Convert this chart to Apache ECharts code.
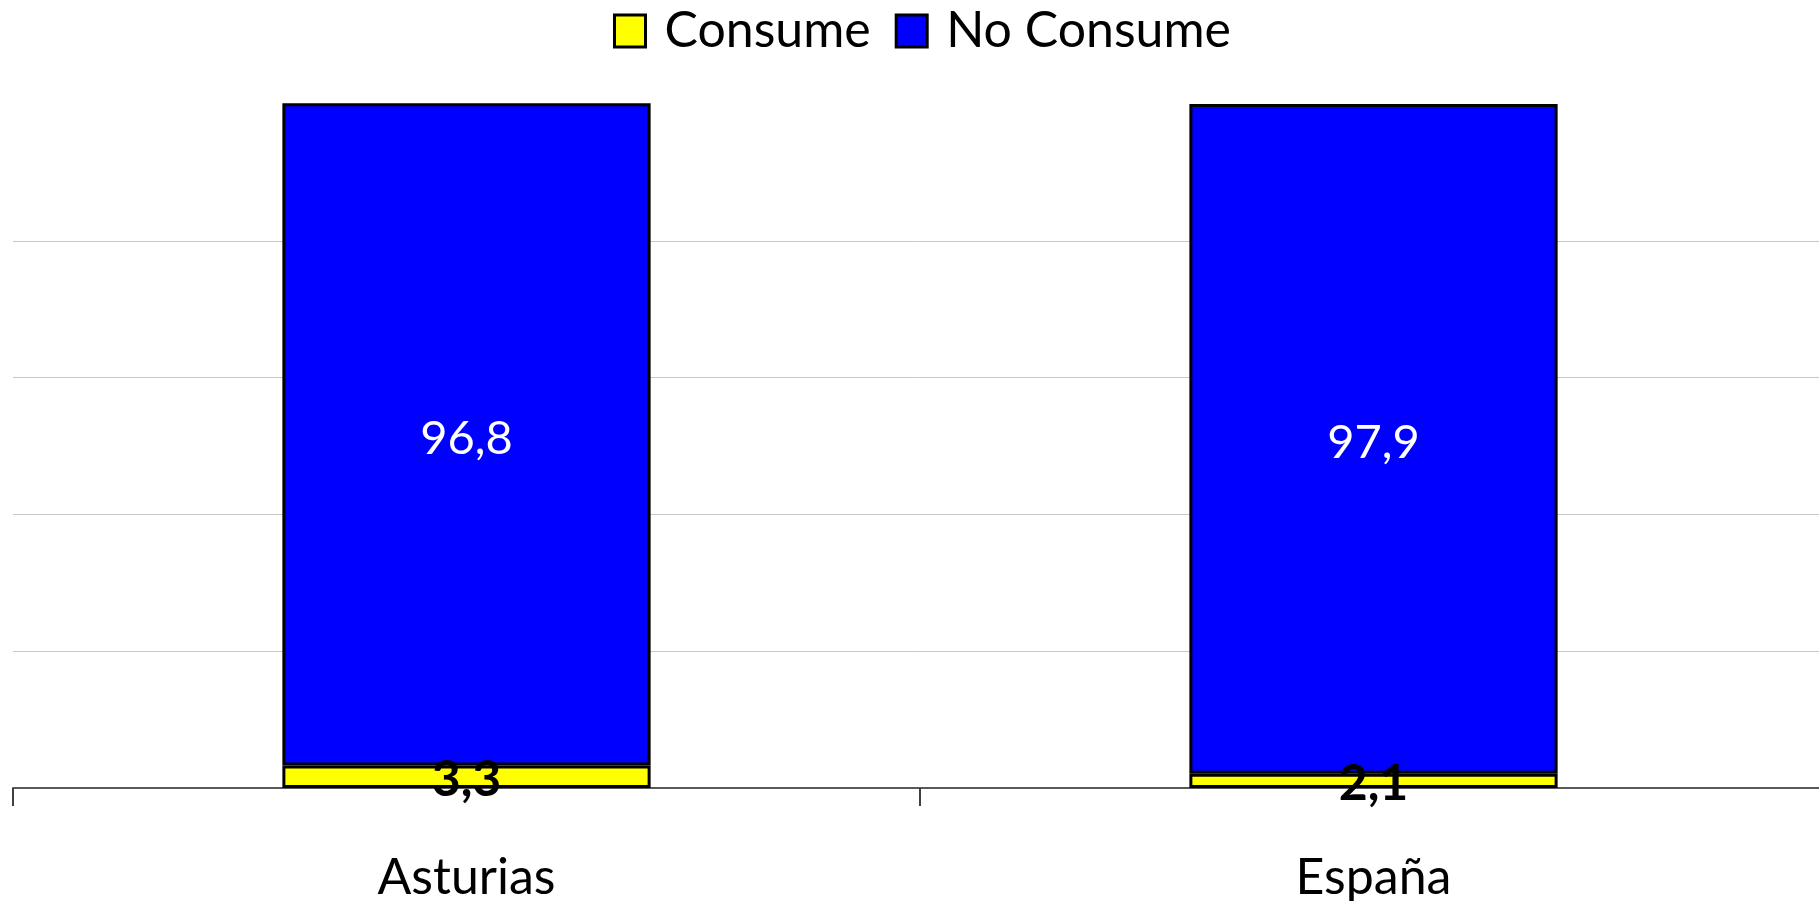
<!DOCTYPE html>
<html>
<head>
<meta charset="utf-8">
<script src="https://cdn.jsdelivr.net/npm/echarts@6/dist/echarts.min.js"></script>
<style>
html,body{margin:0;padding:0;background:#fff;overflow:hidden;}
#c{width:1819px;height:901px;}
</style>
</head>
<body>
<div id="c"></div>
<script>
const categories = ['Asturias', 'España'];
const consume = [3.3, 2.1];
const noConsume = [96.8, 97.9];
const seriesNames = ['Consume', 'No Consume'];

const FONT = 'Lato';
const fmt = p => String(p.value).replace('.', ',');

const chart = echarts.init(document.getElementById('c'), null, {renderer: 'canvas'});
chart.setOption({
  animation: false,
  backgroundColor: '#ffffff',
  legend: {
    data: seriesNames,
    top: 1,
    left: 608,
    itemWidth: 31,
    itemHeight: 32,
    itemGap: 24,
    icon: 'rect',
    textStyle: {fontFamily: FONT, fontSize: 50, color: '#000', padding: [4, 0, 0, 14]},
    itemStyle: {borderColor: '#000', borderWidth: 3}
  },
  grid: {left: 13, width: 1814, top: 104, bottom: 113, containLabel: false, outerBoundsMode: 'none'},
  xAxis: {
    type: 'category',
    data: categories,
    axisLine: {show: true, lineStyle: {color: '#595959', width: 2}},
    axisTick: {show: true, alignWithLabel: false, length: 18, lineStyle: {color: '#404040', width: 2}},
    axisLabel: {fontFamily: FONT, fontSize: 50, color: '#000', margin: 65}
  },
  yAxis: {
    type: 'value',
    min: 0, max: 100, interval: 20,
    axisLabel: {show: false},
    axisLine: {show: false},
    axisTick: {show: false},
    splitLine: {show: true, lineStyle: {color: ['#c8c8c8','#c8c8c8','#c8c8c8','#c8c8c8','#c8c8c8','rgba(0,0,0,0)'], width: 1}}
  },
  series: [
    {
      name: seriesNames[0],
      type: 'bar',
      stack: 'total',
      barWidth: '40.6%',
      clip: false,
      data: consume,
      itemStyle: {color: '#ffff00', borderColor: '#000', borderWidth: 3},
      label: {show: true, position: 'inside', formatter: fmt, fontFamily: FONT, fontWeight: 'bold', fontSize: 50, color: '#000', offset: [0, 3]}
    },
    {
      name: seriesNames[1],
      type: 'bar',
      stack: 'total',
      barWidth: '40.6%',
      clip: false,
      data: noConsume,
      itemStyle: {color: '#0000ff', borderColor: '#000', borderWidth: 3},
      label: {show: true, position: 'inside', formatter: fmt, fontFamily: FONT, fontSize: 47, color: '#fff', offset: [0, 4]}
    }
  ]
});
</script>
</body>
</html>
